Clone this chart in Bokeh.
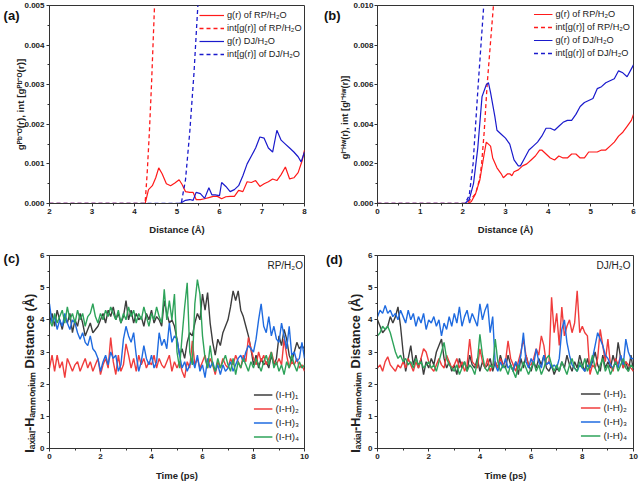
from bokeh.plotting import figure
from bokeh.models import (Legend, LegendItem, Label, SingleIntervalTicker, NumeralTickFormatter, Range1d,
                          LinearAxis, FixedTicker)
from bokeh.layouts import gridplot
from bokeh.embed import file_html
from bokeh.resources import INLINE

FONT = "Liberation Sans"
NB = "\u00a0"

# ---------------- Panel (a): Pb-O RDF ----------------
a_rp_g_x = [2.0, 4.25, 4.33, 4.42, 4.5, 4.57, 4.65, 4.75, 4.85, 4.95, 5.05, 5.12, 5.2, 5.3, 5.38, 5.45, 5.55,
            5.65, 5.75, 5.85, 5.95, 6.05, 6.15, 6.25, 6.35, 6.45, 6.55, 6.65, 6.75, 6.85, 6.95, 7.05, 7.15,
            7.25, 7.35, 7.45, 7.55, 7.65, 7.75, 7.85, 7.95, 8.0]
a_rp_g_y = [0.0, 0.0, 0.00035, 0.00045, 0.00065, 0.0009, 0.00075, 0.0005, 0.00045, 0.00052, 0.0006, 0.00048,
            0.0003, 0.00028, 0.00028, 0.0001, 0.0001, 0.00012, 0.00015, 0.00018, 0.00018, 0.00012, 0.00017,
            0.00018, 0.00018, 0.00033, 0.0003, 0.00055, 0.00053, 0.00058, 0.00043, 0.0005, 0.00055, 0.00062,
            0.00058, 0.00073, 0.00092, 0.00062, 0.00065, 0.00078, 0.0011, 0.00135]
a_rp_int_x = [2.0, 4.25, 4.3, 4.35, 4.4, 4.45, 4.5]
a_rp_int_y = [0.0, 0.0, 0.0008, 0.0018, 0.003, 0.0044, 0.0058]
a_dj_g_x = [2.0, 5.05, 5.1, 5.2, 5.3, 5.38, 5.45, 5.55, 5.65, 5.75, 5.82, 5.9, 6.0, 6.05, 6.15, 6.25, 6.35,
            6.45, 6.55, 6.65, 6.75, 6.85, 6.95, 7.05, 7.15, 7.25, 7.35, 7.45, 7.55, 7.65, 7.75, 7.85, 7.92, 8.0]
a_dj_g_y = [0.0, 0.0, 0.00002, 0.00008, 0.0001, 0.00008, 0.00028, 0.00025, 0.00013, 0.0004, 0.00022, 0.00022,
            0.0002, 0.00053, 0.00043, 0.0003, 0.00035, 0.00045, 0.0007, 0.001, 0.0012, 0.0014, 0.00168,
            0.00165, 0.0014, 0.0013, 0.00185, 0.0016, 0.0015, 0.0014, 0.0013, 0.00118, 0.00105, 0.0013]
a_dj_int_x = [2.0, 5.1, 5.2, 5.3, 5.4, 5.48, 5.52]
a_dj_int_y = [0.0, 0.0, 0.0006, 0.0018, 0.0033, 0.0048, 0.0055]

# ---------------- Panel (b): I-Hw RDF ----------------
b_rp_g_x = [0.0, 2.1, 2.15, 2.2, 2.3, 2.4, 2.5, 2.55, 2.6, 2.65, 2.7, 2.8, 2.9, 2.95, 3.0, 3.05, 3.1, 3.15,
            3.2, 3.3, 3.4, 3.5, 3.6, 3.7, 3.8, 3.85, 3.95, 4.05, 4.15, 4.25, 4.35, 4.45, 4.55, 4.65, 4.75,
            4.85, 4.95, 5.05, 5.15, 5.25, 5.35, 5.45, 5.55, 5.65, 5.75, 5.85, 5.95, 6.0]
b_rp_g_y = [0.0, 0.0, 0.00003, 0.0001, 0.0005, 0.0012, 0.0025, 0.0031, 0.003, 0.0029, 0.0023, 0.0018, 0.0015,
            0.0013, 0.0014, 0.0015, 0.0015, 0.0014, 0.0016, 0.0017, 0.0019, 0.002, 0.0022, 0.0024, 0.0027,
            0.0027, 0.0025, 0.0023, 0.0022, 0.0024, 0.0023, 0.0023, 0.0025, 0.0025, 0.0023, 0.0023, 0.0026,
            0.0026, 0.0026, 0.0027, 0.0027, 0.0029, 0.0031, 0.0034, 0.0036, 0.0039, 0.0042, 0.0045]
b_rp_int_x = [0.0, 2.1, 2.3, 2.4, 2.44, 2.5, 2.57, 2.64, 2.71, 2.75]
b_rp_int_y = [0.0, 0.0, 0.0005, 0.0013, 0.002, 0.0036, 0.006, 0.0079, 0.0098, 0.0108]
b_dj_g_x = [0.0, 2.05, 2.15, 2.25, 2.35, 2.45, 2.55, 2.6, 2.65, 2.75, 2.8, 2.9, 3.0, 3.1, 3.2, 3.3, 3.35,
            3.45, 3.55, 3.65, 3.75, 3.85, 3.95, 4.05, 4.15, 4.25, 4.35, 4.45, 4.55, 4.65, 4.75, 4.85, 4.95,
            5.05, 5.15, 5.25, 5.35, 5.45, 5.55, 5.65, 5.75, 5.85, 5.95, 6.0]
b_dj_g_y = [0.0, 0.0, 0.0002, 0.001, 0.0028, 0.0054, 0.006, 0.0061, 0.0056, 0.0044, 0.0037, 0.0035, 0.0033,
            0.003, 0.0022, 0.0019, 0.0019, 0.0023, 0.0027, 0.0029, 0.0031, 0.0034, 0.0038, 0.0038, 0.0037,
            0.0039, 0.0041, 0.0042, 0.0042, 0.0045, 0.0049, 0.0051, 0.0052, 0.0053, 0.0058, 0.0059, 0.0061,
            0.0062, 0.0063, 0.0067, 0.0066, 0.0064, 0.0068, 0.007]
b_dj_int_x = [0.0, 2.05, 2.15, 2.24, 2.36, 2.49, 2.52]
b_dj_int_y = [0.0, 0.0, 0.0004, 0.002, 0.006, 0.01, 0.011]

# ---------------- Panels (c), (d): time series ----------------
time_ps = [i / 10 for i in range(101)]

c_ih1 = [3.9, 4.2, 3.8, 4.3, 4.0, 3.7, 4.1, 3.9, 4.2, 3.6,
         4.0, 3.8, 4.2, 3.9, 3.5, 3.7, 3.9, 3.6, 3.7, 3.8,
         4.0, 4.2, 3.9, 4.3, 4.1, 4.4, 4.0, 4.2, 3.9, 4.1,
         4.6, 4.0, 4.3, 3.9, 4.2, 4.0, 4.1, 3.8, 4.2, 4.0,
         4.3, 3.9, 4.1, 4.0, 3.8, 4.6, 4.2, 3.9, 4.0, 3.8,
         3.4, 2.9, 3.1, 2.8, 3.3, 3.6, 3.5, 3.9, 4.2, 4.0,
         4.8, 4.3, 4.85, 3.9, 3.3, 2.9, 3.4, 3.2, 3.6, 3.8,
         4.0, 4.4, 4.9, 4.6, 4.9, 4.3, 4.1, 3.8, 3.5, 3.1,
         2.6, 2.9, 2.5, 2.8, 2.6, 2.7, 2.5, 2.9, 2.6, 2.8,
         3.5, 3.2, 3.7, 3.4, 2.9, 2.7, 3.0, 3.3, 3.1, 3.2, 3.1]
c_ih2 = [2.5, 2.9, 2.4, 2.9, 2.5, 2.7, 2.2, 2.8, 2.6, 2.4,
         2.6, 2.7, 2.4, 2.6, 2.8, 2.5, 2.7, 2.4, 2.6, 2.8,
         2.3, 2.6, 2.8, 2.5, 3.45, 2.7, 2.3, 2.9, 2.4, 2.6,
         3.25, 2.9, 2.5, 2.8, 2.4, 2.9, 2.6, 2.8, 2.5, 2.7,
         2.6, 2.9, 2.5, 2.8, 2.6, 2.5, 2.7, 2.9, 2.4, 2.7,
         2.5, 2.7, 2.4, 2.2, 2.7, 2.5, 3.35, 2.6, 2.8, 2.5,
         2.7, 2.9, 2.5, 2.8, 2.6, 2.3, 2.7, 2.5, 2.8, 2.6,
         2.5, 2.8, 2.6, 2.9, 2.7, 2.5, 2.9, 2.7, 3.45, 3.1,
         2.8, 2.6, 3.0, 2.7, 2.9, 2.6, 2.8, 3.0, 2.7, 2.6,
         2.8, 2.6, 3.4, 2.9, 2.5, 2.7, 2.6, 2.8, 2.5, 2.6, 2.4]
c_ih3 = [4.5, 3.9, 4.1, 3.7, 4.0, 3.8, 4.2, 3.9, 3.7, 4.0,
         3.9, 3.6, 3.4, 3.6, 3.3, 3.2, 3.5, 3.1, 3.0, 2.8,
         2.4, 2.7, 2.9, 2.6, 3.0, 2.8, 2.9, 2.4, 2.6, 3.4,
         3.8, 3.5, 3.3, 3.6, 2.9, 2.4, 2.7, 3.2, 2.8, 2.6,
         2.9, 2.5, 2.7, 3.6, 3.2, 3.4, 3.1, 3.9, 3.3, 3.5,
         3.4, 2.9, 2.5, 2.7, 2.4, 2.6, 2.8, 2.5, 2.9, 2.4,
         2.6, 2.2, 2.8, 2.5, 2.7, 2.4, 2.6, 2.3, 2.6, 2.4,
         2.5, 2.7, 2.4, 2.6, 2.8, 2.9, 2.7, 3.0, 3.2, 3.1,
         3.0, 3.4, 4.0, 4.5, 3.8, 3.6, 4.1, 3.5, 3.8, 3.4,
         3.3, 3.9, 3.5, 3.1, 3.8, 2.9, 3.0, 2.7, 2.8, 3.3, 2.8]
c_ih4 = [4.0, 3.8, 4.2, 3.9, 4.1, 4.3, 3.9, 4.4, 4.0, 4.2,
         3.9, 4.3, 4.0, 4.2, 3.8, 4.1, 4.2, 4.5, 4.1, 3.9,
         4.2, 4.0, 4.3, 4.1, 4.4, 4.2, 4.0, 4.3, 3.9, 4.2,
         4.0, 4.4, 4.1, 4.3, 3.9, 4.2, 4.0, 4.4, 4.1, 3.8,
         4.2, 4.0, 4.4, 4.1, 3.9, 4.95, 4.0, 4.6, 4.0, 4.8,
         3.0, 2.5, 3.5, 4.4, 5.15, 3.0, 2.6, 4.5, 5.25, 4.8,
         3.5, 2.8, 2.5, 3.2, 2.6, 2.4, 2.8, 2.5, 2.7, 2.9,
         2.6, 2.4, 2.8, 2.3, 2.7, 2.5, 2.8, 2.6, 2.4, 2.7,
         2.5, 2.8, 2.6, 2.4, 2.7, 2.9, 2.6, 3.0, 2.5, 2.7,
         2.4, 2.6, 2.3, 2.7, 2.5, 2.9, 2.6, 2.4, 2.7, 2.5, 2.6]

d_ih1 = [4.0, 3.8, 3.6, 3.7, 3.8, 4.1, 3.9, 4.1, 4.4, 3.8,
         3.0, 2.4, 2.8, 3.2, 2.6, 2.9, 2.5, 2.8, 2.3, 2.7,
         2.5, 2.8, 2.6, 3.0, 3.2, 3.4, 2.8, 2.5, 2.7, 2.4,
         2.6, 2.3, 2.8, 2.5, 2.7, 2.4, 2.9, 2.6, 2.5, 2.8,
         2.4, 2.7, 2.5, 2.6, 2.8, 2.4, 2.7, 2.5, 2.9, 2.6,
         2.5, 2.9, 2.6, 2.4, 2.7, 2.3, 2.8, 2.5, 2.9, 2.6,
         2.4, 2.7, 2.5, 2.8, 2.6, 2.9, 2.5, 2.4, 2.6, 2.3,
         2.5, 2.4, 2.7, 2.5, 2.9, 2.6, 2.4, 2.7, 2.5, 2.9,
         2.6, 2.4, 2.8, 2.5, 2.7, 3.0, 2.6, 2.4, 2.9, 2.5,
         2.7, 2.5, 2.9, 2.6, 3.3, 2.8, 2.5, 2.7, 2.4, 2.9, 2.4]
d_ih2 = [2.5, 2.6, 2.4, 2.7, 2.85, 2.6, 2.5, 2.4, 2.6, 2.5,
         2.7, 2.5, 2.8, 2.6, 2.4, 2.7, 2.5, 2.8, 3.1, 3.0,
         2.7, 2.5, 2.4, 2.6, 2.8, 2.6, 2.5, 2.9, 2.7, 2.5,
         2.6, 2.8, 2.5, 2.7, 2.4, 2.6, 3.4, 2.7, 2.6, 2.5,
         3.1, 2.7, 2.5, 2.8, 2.4, 2.6, 2.7, 2.5, 2.8, 2.6,
         2.7, 3.35, 2.8, 2.6, 2.4, 2.7, 3.0, 3.4, 2.9, 2.6,
         2.6, 2.8, 3.1, 2.9, 3.5, 3.2, 2.6, 2.7, 4.7, 3.6,
         4.2, 3.2, 4.4, 3.5, 3.8, 4.0, 3.6, 3.9, 4.9, 3.6,
         3.8, 3.6, 3.5, 2.3, 2.6, 2.5, 2.8, 3.7, 3.2, 2.7,
         3.4, 2.6, 2.4, 2.8, 2.6, 2.9, 2.5, 2.7, 2.6, 2.5, 2.4]
d_ih3 = [4.1, 4.3, 4.2, 4.45, 4.2, 4.3, 4.1, 4.2, 4.0, 4.3,
         4.1, 3.9, 4.3, 4.0, 4.2, 3.8, 4.1, 3.9, 4.2, 3.7,
         4.0, 3.9, 4.1, 3.8, 4.0, 3.5, 3.9, 3.7, 4.1, 3.8,
         4.2, 3.9, 4.4, 3.8, 4.1, 4.3, 3.9, 4.2, 4.0, 3.8,
         4.5, 4.0, 4.3, 4.5, 3.6, 4.1, 2.6, 2.4, 2.7, 2.5,
         2.8, 2.5, 2.6, 2.4, 2.7, 2.5, 2.9, 3.6, 2.7, 2.5,
         2.8, 2.6, 3.1, 2.7, 2.5, 2.9, 2.6, 2.7, 2.5, 2.6,
         2.5, 2.8, 3.7, 4.0, 3.3, 2.9, 2.6, 2.5, 2.4, 2.6,
         2.5, 2.4, 2.6, 2.5, 2.8, 3.2, 3.6, 3.4, 3.2, 2.9,
         2.8, 2.6, 2.5, 2.7, 2.5, 2.9, 2.6, 3.4, 3.0, 2.8, 2.8]
d_ih4 = [3.5, 3.6, 3.8, 3.7, 3.8, 3.6, 3.3, 3.0, 2.8, 2.9,
         2.7, 2.8, 2.6, 2.7, 2.5, 2.8, 2.6, 2.7, 2.5, 2.6,
         2.7, 2.5, 2.6, 2.4, 2.7, 3.0, 3.3, 2.8, 2.6, 2.5,
         2.4, 2.6, 2.3, 2.5, 2.7, 2.4, 2.6, 2.5, 2.3, 2.7,
         3.55, 2.9, 2.5, 2.4, 2.6, 2.5, 3.4, 2.7, 2.4, 2.6,
         2.5, 2.3, 2.6, 2.4, 2.2, 2.6, 2.4, 2.7, 2.5, 2.3,
         2.5, 2.7, 2.4, 2.6, 2.3, 2.5, 2.8, 2.9, 2.6, 2.4,
         2.6, 2.4, 2.7, 2.5, 2.3, 2.6, 2.8, 2.5, 2.4, 2.7,
         2.5, 2.8, 2.4, 2.6, 2.9, 2.5, 2.3, 2.6, 2.8, 2.4,
         2.6, 2.3, 2.5, 2.7, 2.4, 2.6, 2.8, 2.5, 2.4, 2.6, 2.5]

series_names = ["(I-H)₁", "(I-H)₂", "(I-H)₃", "(I-H)₄"]
rdf_names_a = ["g(r) of RP/H₂O", "int[g(r)] of RP/H₂O", "g(r) DJ/H₂O", "int[g(r)] of DJ/H₂O"]
rdf_names_b = ["g(r) of RP/H₂O", "int[g(r)] of RP/H₂O", "g(r) of DJ/H₂O", "int[g(r)] of DJ/H₂O"]

RED_A, BLUE_A = "#ff1a1a", "#1a1acc"
TS_COLORS = ["#3d3d3d", "#f03c3c", "#1f6be0", "#2ea35a"]


def make_fig(xr, yr, w, h, bl, br, bt, bb):
    p = figure(width=w, height=h, x_range=Range1d(*xr), y_range=Range1d(*yr),
               output_backend="svg", toolbar_location=None)
    p.min_border = 0
    p.min_border_left, p.min_border_right = bl, br
    p.min_border_top, p.min_border_bottom = bt, bb
    p.xgrid.visible = False
    p.ygrid.visible = False
    p.outline_line_color = "#333333"
    p.outline_line_width = 1
    p.background_fill_color = "white"
    p.border_fill_color = "white"
    for ax in (p.xaxis[0], p.yaxis[0]):
        ax.axis_line_color = "#333333"
        ax.major_tick_line_color = "#333333"
        ax.minor_tick_line_color = "#333333"
        ax.major_tick_in = 0
        ax.major_tick_out = 3
        ax.minor_tick_in = 0
        ax.minor_tick_out = 2
        ax.major_label_text_font = FONT
        ax.major_label_text_font_style = "bold"
        ax.major_label_text_font_size = "8px"
        ax.major_label_text_color = "#222222"
        ax.major_label_standoff = 2
        ax.axis_label_text_font = FONT
        ax.axis_label_text_font_style = "bold"
        ax.axis_label_text_font_size = "9.5px"
        ax.axis_label_text_color = "#222222"
    return p


def add_legend(p, items, loc, glyph_w, label_h, spacing, font_size, margin=0):
    leg = Legend(items=items, location=loc)
    leg.background_fill_alpha = 0
    leg.border_line_alpha = 0
    leg.padding = 0
    leg.margin = margin
    leg.glyph_width = glyph_w
    leg.glyph_height = label_h
    leg.label_height = label_h
    leg.spacing = spacing
    leg.label_standoff = 3
    leg.label_text_font = FONT
    leg.label_text_font_size = font_size
    leg.label_text_color = "#222222"
    p.add_layout(leg)


def panel_letter(p, yval, txt, standoff):
    # an extra, line-less left axis carrying a single tick label: the panel letter
    ax = LinearAxis(ticker=FixedTicker(ticks=[yval]), major_label_overrides={yval: txt})
    ax.axis_line_alpha = 0
    ax.major_tick_line_alpha = 0
    ax.minor_tick_line_alpha = 0
    ax.major_tick_in = 0
    ax.major_tick_out = 0
    ax.minor_tick_in = 0
    ax.minor_tick_out = 0
    ax.axis_label_standoff = 0
    ax.major_label_standoff = standoff
    ax.major_label_text_font = FONT
    ax.major_label_text_font_style = "bold"
    ax.major_label_text_font_size = "13px"
    ax.major_label_text_color = "#111111"
    p.add_layout(ax, "left")


# ---------- (a) ----------
pa = make_fig((2, 8), (0, 0.005), 320, 240, 47, 15, 5, 37)
pa.xaxis[0].ticker = SingleIntervalTicker(interval=1, num_minor_ticks=2)
pa.yaxis[0].ticker = SingleIntervalTicker(interval=0.001, num_minor_ticks=2)
pa.yaxis[0].formatter = NumeralTickFormatter(format="0.000")
pa.xaxis[0].axis_label = "Distance (Å)"
pa.yaxis[0].axis_label = "gᴾᵇ⁻ᴼ(r), int [gᴾᵇ⁻ᴼ(r)]"
pa.yaxis[0].axis_label_text_font_size = "9.8px"
pa.yaxis[0].axis_label_standoff = -5
pa.xaxis[0].axis_label_standoff = 7
ra1 = pa.line(a_rp_g_x, a_rp_g_y, line_color=RED_A, line_width=1.2)
ra2 = pa.line(a_rp_int_x, a_rp_int_y, line_color=RED_A, line_width=1.3, line_dash="4 3")
ra3 = pa.line(a_dj_g_x, a_dj_g_y, line_color=BLUE_A, line_width=1.2)
ra4 = pa.line(a_dj_int_x, a_dj_int_y, line_color=BLUE_A, line_width=1.3, line_dash="4 3")
add_legend(pa, [LegendItem(label=n, renderers=[r]) for n, r in zip(rdf_names_a, [ra1, ra2, ra3, ra4])],
           (150, 143), 25, 12, 1, "9.2px")
panel_letter(pa, 0.00475, "(a)", -7)

# ---------- (b) ----------
pb = make_fig((0, 6), (0, 0.010), 320, 240, 55, 7, 5, 37)
pb.xaxis[0].ticker = SingleIntervalTicker(interval=1, num_minor_ticks=2)
pb.yaxis[0].ticker = SingleIntervalTicker(interval=0.002, num_minor_ticks=2)
pb.yaxis[0].formatter = NumeralTickFormatter(format="0.000")
pb.yaxis[0].major_label_standoff = 1
pb.xaxis[0].axis_label = "Distance (Å)"
pb.yaxis[0].axis_label = "gᴵ⁻ᴴʷ(r), int [gᴵ⁻ᴴʷ(r)]" + NB * 10
pb.yaxis[0].axis_label_text_font_size = "9.3px"
pb.yaxis[0].axis_label_standoff = 0
pb.xaxis[0].axis_label_standoff = 7
rb1 = pb.line(b_rp_g_x, b_rp_g_y, line_color=RED_A, line_width=1.2)
rb2 = pb.line(b_rp_int_x, b_rp_int_y, line_color=RED_A, line_width=1.3, line_dash="4 3")
rb3 = pb.line(b_dj_g_x, b_dj_g_y, line_color=BLUE_A, line_width=1.2)
rb4 = pb.line(b_dj_int_x, b_dj_int_y, line_color=BLUE_A, line_width=1.3, line_dash="4 3")
add_legend(pb, [LegendItem(label=n, renderers=[r]) for n, r in zip(rdf_names_b, [rb1, rb2, rb3, rb4])],
           "top_right", 19, 12, 1, "9.2px", margin=3)
panel_letter(pb, 0.0095, "(b)", -3)


def ts_panel(series, bl, br, bt, bb, glyph_w, label_h, spacing, leg_margin, tag, tag_x, tag_y,
             letter, ly, lstand, ylab_standoff):
    p = make_fig((0, 10), (0, 6), 320, 243, bl, br, bt, bb)
    p.xaxis[0].ticker = SingleIntervalTicker(interval=2, num_minor_ticks=2)
    p.yaxis[0].ticker = SingleIntervalTicker(interval=1, num_minor_ticks=2)
    p.xaxis[0].axis_label = "Time (ps)"
    p.yaxis[0].axis_label = "Iₐₓᵢₐₗ-Hₐₘₘₒₙᵢᵤₘ Distance (Å)" + NB * 12
    p.yaxis[0].axis_label_text_font_size = "12.8px"
    p.yaxis[0].axis_label_standoff = ylab_standoff
    p.xaxis[0].axis_label_standoff = 8
    rs = []
    for ys, col in zip(series, TS_COLORS):
        rs.append(p.line(time_ps, ys, line_color=col, line_width=1.4))
    add_legend(p, [LegendItem(label=n, renderers=[r]) for n, r in zip(series_names, rs)],
               "bottom_right", glyph_w, label_h, spacing, "9.8px", margin=leg_margin)
    p.add_layout(Label(x=tag_x, y=tag_y, text=tag, text_font=FONT, text_font_size="10px",
                       text_align="right", text_baseline="middle", text_color="#222222"))
    panel_letter(p, ly, letter, lstand)
    return p


pc = ts_panel([c_ih1, c_ih2, c_ih3, c_ih4], 46, 16, 15, 32, 19, 13, 1, 5,
              "RP/H₂O", 9.94, 5.69, "(c)", 5.91, 0, 0)
pd_ = ts_panel([d_ih1, d_ih2, d_ih3, d_ih4], 57, 7, 13, 34, 20, 13, 1, 6,
               "DJ/H₂O", 9.88, 5.69, "(d)", 5.87, 3, 2)

grid = gridplot([[pa, pb], [pc, pd_]], toolbar_location=None)

open("out.html", "w").write(file_html(grid, INLINE))
